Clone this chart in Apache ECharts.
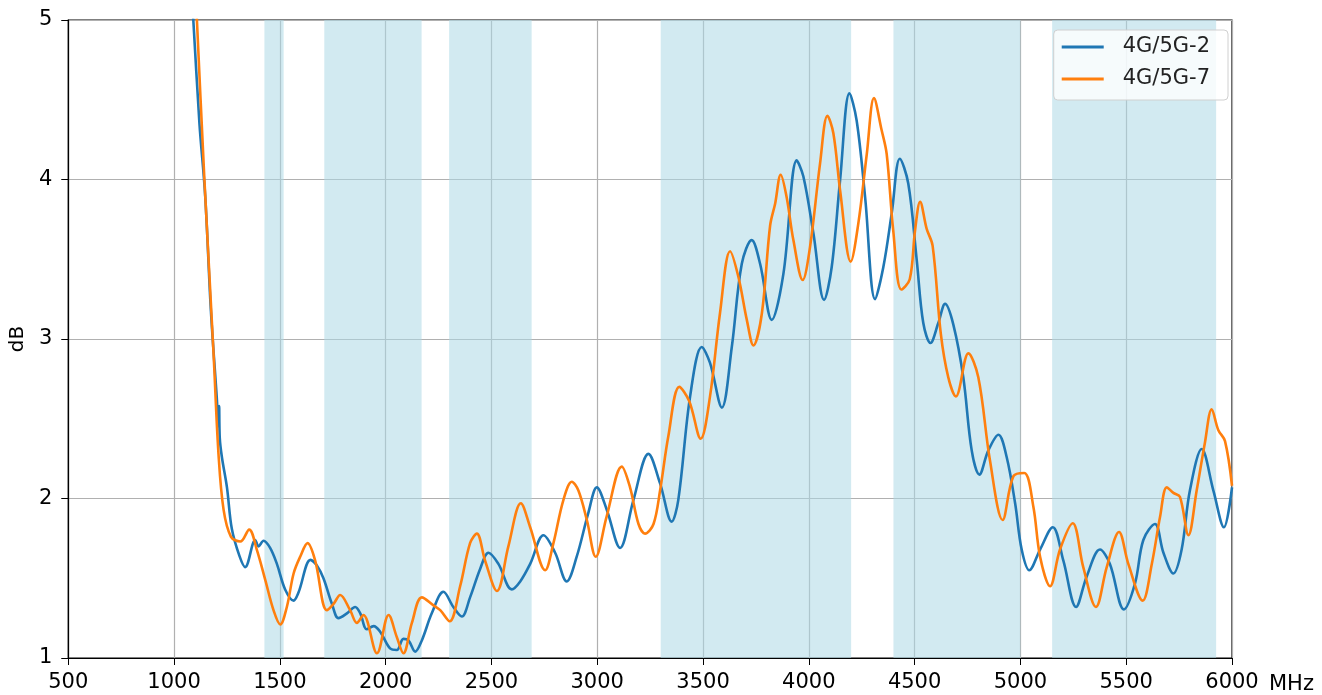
<!DOCTYPE html>
<html>
<head>
<meta charset="utf-8">
<script src="https://cdn.jsdelivr.net/npm/echarts@6/dist/echarts.min.js"></script>
<style>
  html, body { margin: 0; padding: 0; background: #fff; }
  #chart { width: 1322px; height: 695px; }
</style>
</head>
<body>
<div id="chart"></div>
<script>
// frequency (MHz) / loss (dB)
const blueFreq = [1085, 1091, 1120, 1147, 1174, 1202, 1210, 1213, 1216, 1226, 1250, 1273, 1309, 1336, 1384, 1399,
  1423, 1454, 1486, 1525, 1565, 1588, 1645, 1675, 1706, 1746, 1777, 1817, 1856, 1880, 1911, 1943, 1974,
  2021, 2053, 2084, 2108, 2140, 2171, 2218, 2273, 2320, 2360, 2399, 2447, 2486, 2533, 2596, 2636, 2683,
  2746, 2801, 2856, 2903, 2958, 2998, 3045, 3108, 3171, 3242, 3297, 3352, 3383, 3439, 3494, 3533, 3589,
  3636, 3683, 3730, 3770, 3825, 3880, 3943, 3974, 4022, 4072, 4108, 4148, 4192, 4226, 4266, 4313, 4352,
  4392, 4430, 4470, 4510, 4541, 4575, 4612, 4644, 4683, 4730, 4770, 4806, 4848, 4896, 4935, 4975, 5006,
  5042, 5093, 5153, 5203, 5263, 5313, 5376, 5423, 5489, 5542, 5581, 5636, 5676, 5723, 5762, 5801, 5857,
  5912, 5962, 6000]
const blueDb = [5.1, 5.0, 4.35, 3.9, 3.18, 2.63, 2.45, 2.58, 2.38, 2.26, 2.07, 1.81, 1.64, 1.57, 1.74, 1.7,
  1.735, 1.69, 1.59, 1.43, 1.36, 1.41, 1.615, 1.58, 1.5, 1.34, 1.25, 1.28, 1.32, 1.28, 1.18, 1.2, 1.165,
  1.06, 1.05, 1.12, 1.11, 1.04, 1.11, 1.28, 1.415, 1.32, 1.26, 1.38, 1.56, 1.66, 1.59, 1.43, 1.48, 1.59,
  1.77, 1.66, 1.48, 1.635, 1.91, 2.07, 1.93, 1.69, 1.99, 2.28, 2.095, 1.855, 1.99, 2.64, 2.95, 2.85, 2.57,
  2.95, 3.47, 3.62, 3.47, 3.12, 3.41, 4.12, 4.02, 3.66, 3.245, 3.45, 4.0, 4.54, 4.37, 3.89, 3.25, 3.45,
  3.79, 4.13, 3.975, 3.495, 3.1, 2.975, 3.1, 3.22, 3.09, 2.76, 2.3, 2.15, 2.3, 2.4, 2.26, 1.97, 1.68,
  1.55, 1.68, 1.82, 1.61, 1.32, 1.51, 1.68, 1.59, 1.305, 1.47, 1.74, 1.84, 1.66, 1.53, 1.68, 2.05, 2.31,
  2.05, 1.82, 2.07]

const orangeFreq = [1104, 1108, 1143, 1187, 1210, 1234, 1269, 1313, 1355, 1391, 1431, 1470, 1502, 1533, 1565,
  1596, 1631, 1667, 1722, 1754, 1785, 1832, 1864, 1895, 1959, 2014, 2053, 2084, 2124, 2171, 2226, 2258,
  2302, 2352, 2399, 2431, 2470, 2526, 2580, 2639, 2683, 2754, 2793, 2840, 2880, 2911, 2951, 2993, 3045,
  3116, 3155, 3195, 3226, 3266, 3297, 3336, 3388, 3435, 3489, 3533, 3580, 3628, 3667, 3707, 3738, 3778,
  3817, 3841, 3867, 3895, 3927, 3971, 4006, 4053, 4088, 4116, 4148, 4198, 4234, 4274, 4308, 4344, 4368,
  4399, 4437, 4477, 4502, 4526, 4557, 4585, 4624, 4659, 4695, 4754, 4801, 4856, 4916, 4967, 5018, 5061,
  5093, 5140, 5187, 5247, 5297, 5357, 5408, 5466, 5510, 5578, 5621, 5660, 5692, 5723, 5754, 5794, 5833,
  5872, 5904, 5935, 5967, 6000]
const orangeDb = [5.1, 5.0, 4.01, 2.9, 2.28, 1.93, 1.76, 1.73, 1.805, 1.68, 1.49, 1.3, 1.21, 1.32, 1.53,
  1.635, 1.72, 1.61, 1.3, 1.34, 1.395, 1.3, 1.22, 1.27, 1.03, 1.27, 1.13, 1.03, 1.22, 1.38, 1.33, 1.3,
  1.23, 1.45, 1.72, 1.78, 1.61, 1.42, 1.7, 1.97, 1.82, 1.55, 1.72, 1.99, 2.105, 2.05, 1.865, 1.635, 1.89,
  2.2, 2.07, 1.84, 1.78, 1.84, 2.05, 2.39, 2.7, 2.61, 2.375, 2.64, 3.16, 3.55, 3.39, 3.12, 2.96, 3.16,
  3.71, 3.85, 4.03, 3.89, 3.62, 3.37, 3.58, 4.1, 4.4, 4.29, 3.93, 3.485, 3.725, 4.16, 4.51, 4.31, 4.16,
  3.68, 3.31, 3.375, 3.68, 3.86, 3.69, 3.585, 3.03, 2.76, 2.64, 2.91, 2.76, 2.24, 1.865, 2.14, 2.16, 1.95,
  1.635, 1.45, 1.68, 1.845, 1.57, 1.32, 1.57, 1.79, 1.59, 1.36, 1.59, 1.885, 2.07, 2.035, 2.01, 1.77, 2.05,
  2.35, 2.56, 2.43, 2.36, 2.08]

// shaded bands (MHz)
const bandStart = [1427, 1710, 2300, 3300, 4400, 5150]
const bandEnd = [1518, 2170, 2690, 4200, 5000, 5925]

const seriesNames = ['4G/5G-2', '4G/5G-7']

function pairs(xs, ys) {
  return xs.map((x, i) => [x, ys[i]])
}

const chart = echarts.init(document.getElementById('chart'))
const font = 'DejaVu Sans'
const axisLabel = { fontSize: 21, color: '#000', fontFamily: font, formatter: v => String(v) }

chart.setOption({
  animation: false,
  backgroundColor: '#fff',
  color: ['#1f77b4', '#ff7f0e'],
  grid: {
    left: 68,
    right: 90,
    top: 20,
    bottom: 37,
    show: true,
    borderColor: '#000',
    borderWidth: 1.2,
    backgroundColor: 'transparent'
  },
  legend: {
    data: seriesNames,
    orient: 'vertical',
    right: 94,
    top: 30,
    icon: 'rect',
    itemWidth: 42,
    itemHeight: 3,
    itemGap: 8,
    padding: [5, 18, 9, 8],
    backgroundColor: 'rgba(255,255,255,0.8)',
    borderColor: '#d0d0d0',
    borderWidth: 1,
    borderRadius: 4,
    textStyle: { fontSize: 21, lineHeight: 24, color: '#222', fontFamily: font, padding: [0, 0, 0, 14] }
  },
  xAxis: {
    type: 'value',
    min: 500,
    max: 6000,
    interval: 500,
    name: 'MHz',
    nameLocation: 'end',
    nameGap: 25,
    nameTextStyle: { fontSize: 21, color: '#000', fontFamily: font, verticalAlign: 'top', padding: [16, 0, 0, 12] },
    axisLine: { lineStyle: { color: '#000', width: 1.2 } },
    axisTick: { show: true, length: 7, lineStyle: { color: '#000' } },
    axisLabel: Object.assign({ margin: 14 }, axisLabel),
    splitLine: { show: true, lineStyle: { color: '#b0b0b0', width: 1.2 } }
  },
  yAxis: {
    type: 'value',
    min: 1,
    max: 5,
    interval: 1,
    name: 'dB',
    nameLocation: 'middle',
    nameGap: 40,
    nameTextStyle: { fontSize: 20, color: '#000', fontFamily: font },
    axisLine: { show: true, lineStyle: { color: '#000', width: 1.2 } },
    axisTick: { show: true, length: 7, lineStyle: { color: '#000' } },
    axisLabel: Object.assign({ margin: 16 }, axisLabel),
    splitLine: { show: true, lineStyle: { color: '#b0b0b0', width: 1.2 } }
  },
  series: [
    {
      name: seriesNames[0],
      type: 'line',
      data: pairs(blueFreq, blueDb),
      showSymbol: false,
      smooth: 0.35,
      clip: true,
      lineStyle: { width: 2.6 },
      z: 3,
      markArea: {
        silent: true,
        itemStyle: { color: 'rgba(173,216,230,0.55)' },
        data: bandStart.map((s, i) => [{ xAxis: s }, { xAxis: bandEnd[i] }])
      }
    },
    {
      name: seriesNames[1],
      type: 'line',
      data: pairs(orangeFreq, orangeDb),
      showSymbol: false,
      smooth: 0.35,
      clip: true,
      lineStyle: { width: 2.6 },
      z: 4
    }
  ]
})
</script>
</body>
</html>
